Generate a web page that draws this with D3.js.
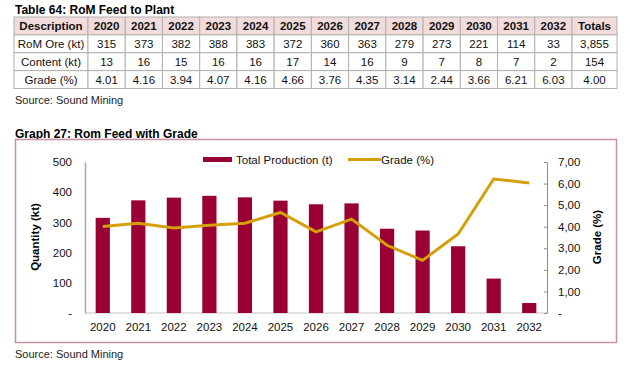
<!DOCTYPE html>
<html><head><meta charset="utf-8">
<script src="https://cdn.jsdelivr.net/npm/d3@7"></script>
<style>body{margin:0;background:#fff}svg{display:block;font-family:"Liberation Sans",Arial,sans-serif}</style>
</head><body>
<svg id="c" width="640" height="368"></svg>
<script>
const years = ["2020","2021","2022","2023","2024","2025","2026","2027","2028","2029","2030","2031","2032"];
const romOre = [315,373,382,388,383,372,360,363,279,273,221,114,33];
const content = [13,16,15,16,16,17,14,16,9,7,8,7,2];
const grade = [4.01,4.16,3.94,4.07,4.16,4.66,3.76,4.35,3.14,2.44,3.66,6.21,6.03];
const rowLabels = ["RoM Ore (kt)","Content (kt)","Grade (%)"];
const totals = ["3,855","154","4.00"];
const leftTicks = [0,100,200,300,400,500];
const rightTicks = [0,1,2,3,4,5,6,7];

const svg = d3.select("#c");
const barColor = "#990033", lineColor = "#d4a00a";

// ---------- Table ----------
svg.append("text").attr("x",15).attr("y",14).attr("font-size",12).attr("font-weight","bold").text("Table 64: RoM Feed to Plant");
const cols = ["Description", ...years, "Totals"];
const colX = d3.scaleBand().domain(years).range([88,572]);
const colEdge = c => c==="Description" ? [14,88] : c==="Totals" ? [572,617] : [colX(c), colX(c)+colX.bandwidth()];
const rowY = d3.scaleBand().domain([0,1,2,3]).range([17,88.5]);
const rows = [cols,
  [rowLabels[0], ...romOre.map(String), totals[0]],
  [rowLabels[1], ...content.map(String), totals[1]],
  [rowLabels[2], ...grade.map(v=>v.toFixed(2)), totals[2]]];
const tg = svg.append("g");
rows.forEach((r,ri)=>{
  r.forEach((v,ci)=>{
    const [x0,x1] = colEdge(cols[ci]);
    tg.append("rect").attr("x",x0).attr("y",rowY(ri)).attr("width",x1-x0).attr("height",rowY.bandwidth())
      .attr("fill", ri===0 ? "#f2dcdb" : "#fff").attr("stroke","#b0b0b0").attr("stroke-width",1);
    tg.append("text").attr("x",(x0+x1)/2).attr("y",rowY(ri)+rowY.bandwidth()/2+4)
      .attr("text-anchor","middle").attr("font-size",11.5).attr("font-weight", ri===0?"bold":"normal")
      .attr("fill","#111").text(v);
  });
});
svg.append("text").attr("x",15).attr("y",104).attr("font-size",11).attr("fill","#222").text("Source: Sound Mining");

// ---------- Chart ----------
svg.append("text").attr("x",15).attr("y",138).attr("font-size",12).attr("font-weight","bold").text("Graph 27: Rom Feed with Grade");
svg.append("rect").attr("x",15.5).attr("y",139.5).attr("width",601).attr("height",203).attr("fill","#fff").attr("stroke","#c98fa3").attr("stroke-width",1.5);
svg.append("text").attr("x",15).attr("y",358).attr("font-size",11).attr("fill","#222").text("Source: Sound Mining");

const x = d3.scaleBand().domain(years).range([85,547]).paddingInner(0.6).paddingOuter(0.3);
const yL = d3.scaleLinear().domain([0,500]).range([313,162]);
const yR = d3.scaleLinear().domain([0,7]).range([313,162]);

// baseline
svg.append("line").attr("x1",85).attr("x2",547).attr("y1",313).attr("y2",313).attr("stroke","#d9d9d9").attr("stroke-width",1.5);

svg.append("g").selectAll("rect").data(romOre).join("rect")
  .attr("x",(d,i)=>x(years[i])).attr("width",x.bandwidth())
  .attr("y",d=>yL(d)).attr("height",d=>yL(0)-yL(d)).attr("fill",barColor);

const line = d3.line().x((d,i)=>x(years[i])+x.bandwidth()/2).y(d=>yR(d));
svg.append("path").datum(grade).attr("d",line).attr("fill","none").attr("stroke",lineColor).attr("stroke-width",3).attr("stroke-linejoin","miter");

// left axis
const fmtL = d => d===0 ? "-" : String(d);
const gL = svg.append("g").attr("transform","translate(85,0)")
  .call(d3.axisLeft(yL).tickValues(leftTicks).tickFormat(fmtL).tickSize(0).tickPadding(13));
gL.select(".domain").attr("stroke","#a6a6a6").attr("stroke-width",1.5);
gL.selectAll("text").attr("font-size",11.5).attr("fill","#111").attr("font-family","Liberation Sans, Arial, sans-serif");

// right axis
const fmtR = d => d===0 ? "-" : d.toFixed(2).replace(".",",");
const gR = svg.append("g").attr("transform","translate(547,0)")
  .call(d3.axisRight(yR).tickValues(rightTicks).tickFormat(fmtR).tickSizeInner(-3).tickSizeOuter(0).tickPadding(11));
gR.select(".domain").attr("stroke","#8c8c8c").attr("stroke-width",1);
gR.selectAll("line").attr("stroke","#8c8c8c");
gR.selectAll("text").attr("font-size",11.5).attr("fill","#111").attr("font-family","Liberation Sans, Arial, sans-serif");

// bottom axis labels
const gB = svg.append("g").attr("transform","translate(0,313)")
  .call(d3.axisBottom(x).tickSize(0).tickPadding(10));
gB.select(".domain").remove();
gB.selectAll("text").attr("font-size",11.5).attr("fill","#111").attr("font-family","Liberation Sans, Arial, sans-serif");

// axis titles
svg.append("text").attr("transform","translate(39,237) rotate(-90)").attr("text-anchor","middle")
  .attr("font-size",11.5).attr("font-weight","bold").text("Quantity (kt)");
svg.append("text").attr("transform","translate(601,237) rotate(-90)").attr("text-anchor","middle")
  .attr("font-size",11.5).attr("font-weight","bold").text("Grade (%)");

// legend
svg.append("rect").attr("x",203).attr("y",157).attr("width",29).attr("height",5).attr("fill",barColor);
svg.append("text").attr("x",236).attr("y",163.5).attr("font-size",11.5).attr("fill","#111").text("Total Production (t)");
svg.append("line").attr("x1",348).attr("x2",381).attr("y1",159.5).attr("y2",159.5).attr("stroke",lineColor).attr("stroke-width",3);
svg.append("text").attr("x",381).attr("y",163.5).attr("font-size",11.5).attr("fill","#111").text("Grade (%)");
</script>
</body></html>
